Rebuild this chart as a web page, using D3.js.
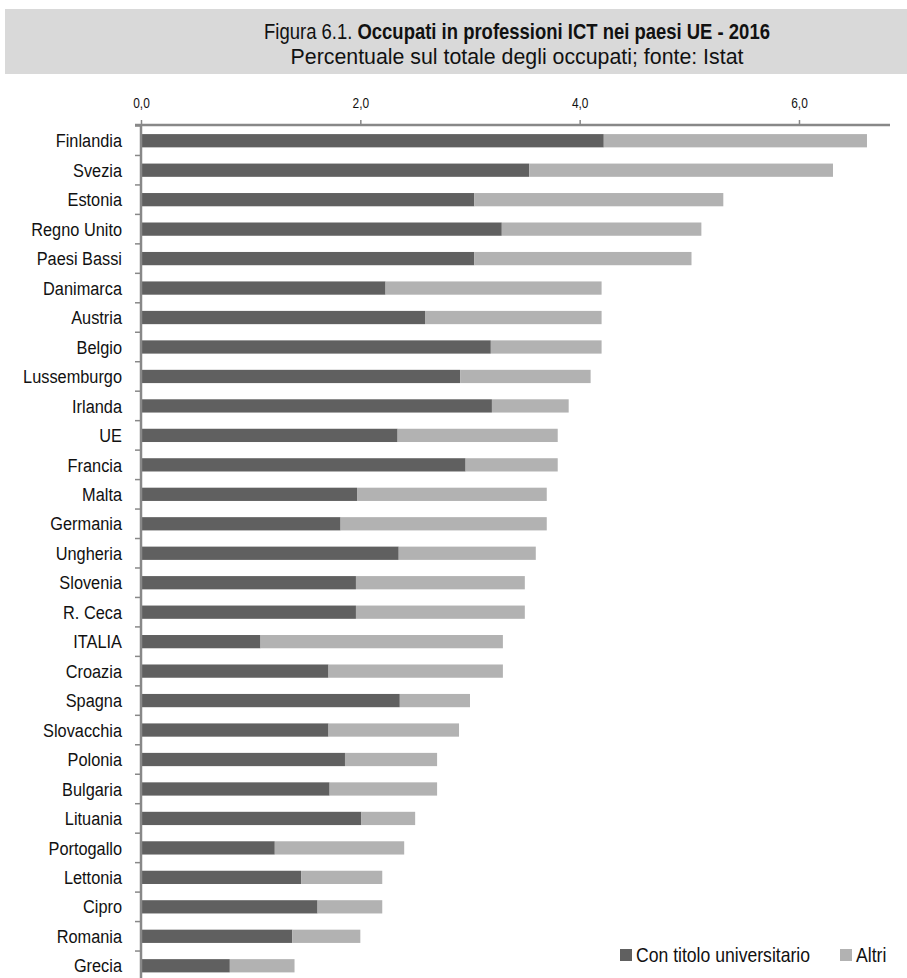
<!DOCTYPE html>
<html><head><meta charset="utf-8">
<script src="https://cdn.jsdelivr.net/npm/d3@7"></script>
<style>body{margin:0;background:#fff} svg{display:block}</style>
</head><body><svg id="c" width="907" height="978"></svg>
<script>
const countries = ["Finlandia","Svezia","Estonia","Regno Unito","Paesi Bassi","Danimarca","Austria","Belgio","Lussemburgo","Irlanda","UE","Francia","Malta","Germania","Ungheria","Slovenia","R. Ceca","ITALIA","Croazia","Spagna","Slovacchia","Polonia","Bulgaria","Lituania","Portogallo","Lettonia","Cipro","Romania","Grecia"];
const conTitolo = [4.22,3.54,3.04,3.29,3.04,2.23,2.59,3.19,2.91,3.20,2.34,2.96,1.97,1.82,2.35,1.96,1.96,1.09,1.71,2.36,1.71,1.86,1.72,2.01,1.22,1.46,1.61,1.38,0.81];
const altri = [2.40,2.77,2.27,1.82,1.98,1.97,1.61,1.01,1.19,0.70,1.46,0.84,1.73,1.88,1.25,1.54,1.54,2.21,1.59,0.64,1.19,0.84,0.98,0.49,1.18,0.74,0.59,0.62,0.59];
const seriesNames = ["Con titolo universitario","Altri"];
const seriesColors = ["#606060","#b2b2b2"];
const xTicks = [0,2,4,6];
const titlePrefix = "Figura 6.1. ";
const titleBold = "Occupati in professioni ICT nei paesi UE - 2016";
const subtitle = "Percentuale sul totale degli occupati; fonte: Istat";

const FONT = "'Liberation Sans',Arial,sans-serif";
const SX = 0.86; // narrow look
const svg = d3.select("#c");

// title band
svg.append("rect").attr("x",5).attr("y",9).attr("width",902).attr("height",65).attr("fill","#d9d9d9");
const t = svg.append("text").attr("transform",`translate(517,39) scale(0.84,1)`).attr("text-anchor","middle")
  .attr("font-family",FONT).attr("font-size",22).attr("fill","#111");
t.append("tspan").text(titlePrefix);
t.append("tspan").attr("font-weight","bold").text(titleBold);
svg.append("text").attr("transform",`translate(517,64) scale(0.97,1)`).attr("text-anchor","middle")
  .attr("font-family",FONT).attr("font-size",22).attr("fill","#111").text(subtitle);

const rows = countries.map((c,i)=>({country:c, [seriesNames[0]]:conTitolo[i], [seriesNames[1]]:altri[i]}));
const stack = d3.stack().keys(seriesNames)(rows);

const x = d3.scaleLinear().domain([0,6.83]).range([141,890]);
const y = d3.scaleBand().domain(countries).range([126,980.5]).padding(0);
const bw = y.bandwidth();
const bh = bw*0.45;

// bars
svg.append("g").selectAll("g").data(stack).join("g")
  .attr("fill",(d,i)=>seriesColors[i])
  .selectAll("rect").data(d=>d).join("rect")
  .attr("x",d=>x(d[0])).attr("width",d=>x(d[1])-x(d[0]))
  .attr("y",d=>y(d.data.country)+(bw-bh)/2).attr("height",bh);

// top axis
const ax = d3.axisTop(x).tickValues(xTicks).tickSize(5).tickPadding(12)
  .tickFormat(d=>d.toFixed(1).replace(".",","));
const gx = svg.append("g").attr("transform","translate(0,125)").call(ax);
gx.select(".domain").attr("stroke","#888").attr("stroke-width",2.5).attr("d",`M${x.range()[0]-6},0H${x.range()[1]}`);
gx.selectAll(".tick line").attr("stroke","#888").attr("stroke-width",1.5);
gx.selectAll(".tick text").attr("font-family",FONT).attr("font-size",14).attr("fill","#111")
  .attr("transform","scale(0.85,1)");

// left axis
const gy = svg.append("g");
gy.append("line").attr("x1",x(0)).attr("x2",x(0)).attr("y1",124).attr("y2",978)
  .attr("stroke","#888").attr("stroke-width",2.5);
gy.selectAll("line.tk").data(countries.concat([null])).join("line").attr("class","tk")
  .attr("x1",x(0)-6).attr("x2",x(0))
  .attr("y1",(d,i)=> i<countries.length ? y(d) : y.range()[1])
  .attr("y2",(d,i)=> i<countries.length ? y(d) : y.range()[1])
  .attr("stroke","#888").attr("stroke-width",1.5);
gy.selectAll("text").data(countries).join("text")
  .attr("transform",d=>`translate(122,${y(d)+bw/2}) scale(${SX},1)`).attr("dy","0.35em").attr("text-anchor","end")
  .attr("font-family",FONT).attr("font-size",19).attr("fill","#111").text(d=>d);

// legend
const lg = svg.append("g");
const lx = [620,840];
seriesNames.forEach((n,i)=>{
  lg.append("rect").attr("x",lx[i]).attr("y",949).attr("width",12).attr("height",12).attr("fill",seriesColors[i]);
  lg.append("text").attr("transform",`translate(${lx[i]+16},955) scale(0.88,1)`).attr("dy","0.35em")
    .attr("font-family",FONT).attr("font-size",20).attr("fill","#111").text(n);
});
</script></body></html>
